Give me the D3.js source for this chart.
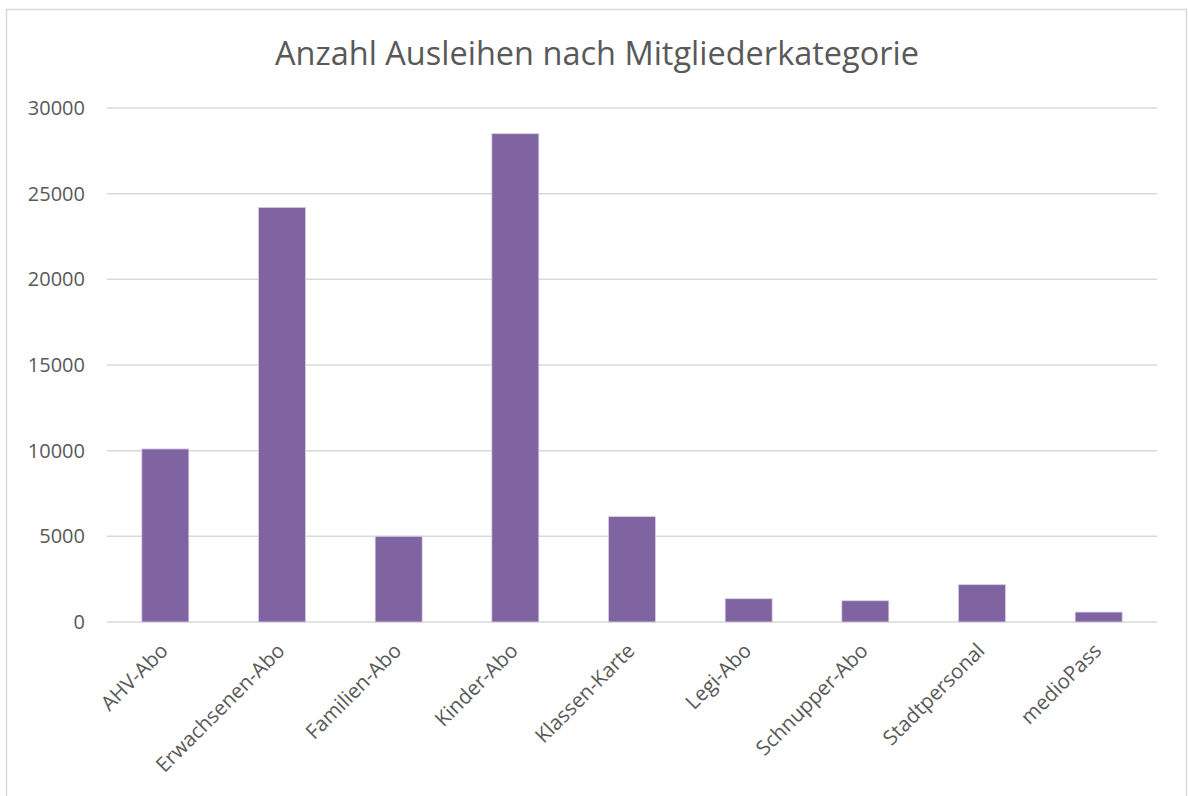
<!DOCTYPE html>
<html>
  <head>
    <meta charset="utf-8">
    <title>Anzahl Ausleihen</title>
    <script src="https://d3js.org/d3.v7.min.js"></script>
    <style>
      body { margin: 0; background: #fff; }
      svg { display: block; }
      svg text { font-family: 'Open Sans', sans-serif; fill: #595959; }
    </style>
  </head>
  <body>
    <svg id="svg"></svg>
    <script>
// values
var categories = ["AHV-Abo", "Erwachsenen-Abo", "Familien-Abo", "Kinder-Abo", "Klassen-Karte",
                  "Legi-Abo", "Schnupper-Abo", "Stadtpersonal", "medioPass"];
var ausleihen = [10100, 24200, 5000, 28500, 6150, 1360, 1240, 2180, 580];
var yTicks = [0, 5000, 10000, 15000, 20000, 25000, 30000];

var width = 1188, height = 796;
var margin = {top: 108, right: 31, bottom: 174, left: 107};

var svg = d3.select('#svg').attr('width', width).attr('height', height);

// chart frame
svg.append('rect')
  .attr('x', 6.5).attr('y', 9.5)
  .attr('width', 1180).attr('height', 800)
  .style('fill', 'none').style('stroke', '#d9d9d9').style('stroke-width', 1.5);

var x = d3.scaleBand()
  .domain(categories)
  .range([margin.left, width - margin.right])
  .paddingInner(0.597).paddingOuter(0.2985);

var y = d3.scaleLinear()
  .domain([0, 30000])
  .range([height - margin.bottom, margin.top]);

// gridlines
svg.append('g')
  .selectAll('line')
  .data(yTicks)
  .enter()
  .append('line')
  .attr('x1', margin.left).attr('x2', width - margin.right)
  .attr('y1', function(d) { return y(d); })
  .attr('y2', function(d) { return y(d); })
  .style('stroke', '#d9d9d9').style('stroke-width', 1.5);

// y axis labels
var yAxis = svg.append('g')
  .attr('transform', 'translate(' + margin.left + ',0)')
  .call(d3.axisLeft(y).tickValues(yTicks).tickSize(0).tickPadding(22).tickFormat(d3.format('d')));
yAxis.select('.domain').remove();
yAxis.selectAll('text').style('font-size', '20px');

// bars
svg.append('g')
  .selectAll('rect')
  .data(ausleihen)
  .enter()
  .append('rect')
  .attr('x', function(d, i) { return x(categories[i]); })
  .attr('y', function(d) { return y(d); })
  .attr('width', x.bandwidth())
  .attr('height', function(d) { return y(0) - y(d); })
  .style('fill', '#8064a2')
  .style('stroke', '#d8d0e3').style('stroke-width', 0.8);

// x axis labels
var xAxis = svg.append('g')
  .attr('transform', 'translate(0,' + y(0) + ')')
  .call(d3.axisBottom(x).tickSize(0).tickPadding(0));
xAxis.select('.domain').remove();
xAxis.selectAll('text')
  .style('font-size', '20.5px')
  .attr('text-anchor', 'end')
  .attr('dy', null)
  .attr('transform', 'translate(4,30) rotate(-45)');

// title
svg.append('text')
  .attr('x', 597).attr('y', 65)
  .attr('text-anchor', 'middle')
  .style('font-size', '32.5px')
  .text('Anzahl Ausleihen nach Mitgliederkategorie');
    </script>
  </body>
</html>
